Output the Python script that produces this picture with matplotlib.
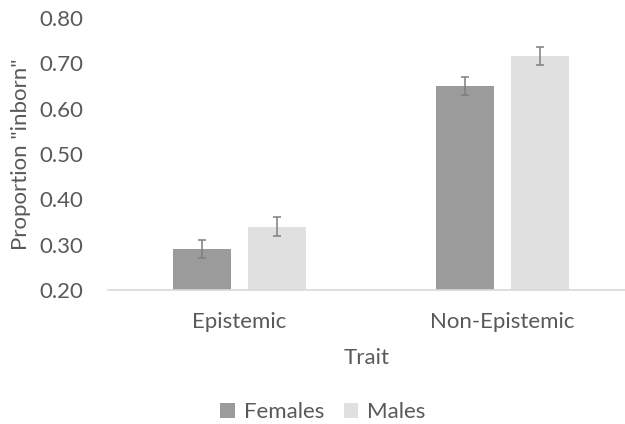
import matplotlib
matplotlib.use("Agg")
import matplotlib.pyplot as plt
import numpy as np

# Proportion of traits judged "inborn", by trait type and participant sex
categories = ["Epistemic", "Non-Epistemic"]
series_names = ["Females", "Males"]
females = [0.29, 0.65]
males = [0.34, 0.716]
females_err = [0.02, 0.02]
males_err = [0.02, 0.02]
y_ticks = [0.20, 0.30, 0.40, 0.50, 0.60, 0.70, 0.80]

text_color = "#595959"
fs = 16
plt.rcParams["font.family"] = ["Lato", "DejaVu Sans"]

fig = plt.figure(figsize=(6.25, 4.24), dpi=100)
ax = fig.add_axes([108 / 625, 1 - 290 / 424, 517 / 625, 272 / 424])

x = np.arange(len(categories))
bar_w = 0.224
offset = 0.1425
ax.bar(x - offset, np.array(females) - 0.2, bottom=0.2, width=bar_w,
       color="#9b9b9b", label=series_names[0], zorder=2)
ax.bar(x + offset, np.array(males) - 0.2, bottom=0.2, width=bar_w,
       color="#e0e0e0", label=series_names[1], zorder=2)
err_kw = dict(fmt="none", ecolor="#7f7f7f", elinewidth=1.1, capsize=3,
              capthick=1.1, zorder=3)
ax.errorbar(x - offset, females, yerr=females_err, **err_kw)
ax.errorbar(x + offset, males, yerr=males_err, **err_kw)

ax.set_xlim(-0.5, 1.5 - 9 / 263)
ax.set_ylim(0.2, 0.8)
ax.set_yticks(y_ticks)
ax.set_yticklabels([f"{v:.2f}" for v in y_ticks])
ax.set_xticks(x)
ax.set_xticklabels(categories)

for side in ["top", "right", "left"]:
    ax.spines[side].set_visible(False)
ax.spines["bottom"].set_color("#d9d9d9")
ax.spines["bottom"].set_linewidth(1.2)
ax.tick_params(axis="both", length=0, colors=text_color, labelsize=fs)
ax.tick_params(axis="y", pad=18)
ax.tick_params(axis="x", pad=16)

ax.set_xlabel("Trait", color=text_color, fontsize=fs, labelpad=11)
ax.set_ylabel('Proportion "inborn"', color=text_color, fontsize=fs, labelpad=6)

leg = fig.legend(loc="center", bbox_to_anchor=(323 / 625, 1 - 412 / 424), ncol=2,
                 frameon=False, fontsize=fs, handlelength=0.65,
                 handleheight=0.65, handletextpad=0.4, columnspacing=0.9)
for t in leg.get_texts():
    t.set_color(text_color)

fig.savefig("out.png", dpi=100)
